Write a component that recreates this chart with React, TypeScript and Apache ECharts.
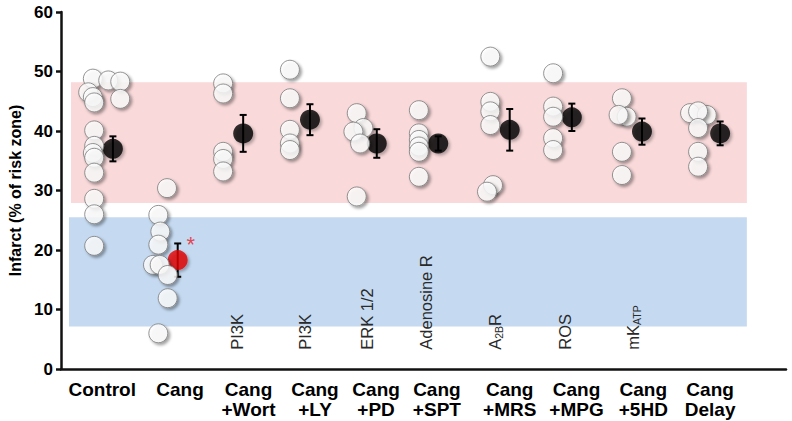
import React, { useEffect, useRef } from 'react';
import * as echarts from 'echarts';

// Groups along the x axis
const groupLabels = [
  'Control', 'Cang', 'Cang\n+Wort', 'Cang\n+LY', 'Cang\n+PD',
  'Cang\n+SPT', 'Cang\n+MRS', 'Cang\n+MPG', 'Cang\n+5HD', 'Cang\nDelay',
];
// Pathway targeted by each inhibitor (rich-text markup for subscripts)
const targetLabels = ['', '', 'PI3K', 'PI3K', 'ERK 1/2', 'Adenosine R', 'A{sub|2B}R', 'ROS', 'mK{sub|ATP}', ''];

// Individual infarct sizes (% of risk zone)
const controlValues = [48.8, 48.5, 48.3, 46.5, 45.7, 44.8, 45.4, 40.1, 37.5, 36.3, 35.5, 33.0, 28.6, 26.0, 20.7];
const cangValues = [30.4, 25.9, 23.1, 20.9, 17.5, 17.5, 15.8, 11.9, 6.0];
const wortValues = [48.0, 46.3, 36.5, 35.3, 33.2];
const lyValues = [50.3, 45.5, 40.2, 37.9, 36.8];
const pdValues = [43.0, 40.5, 39.9, 37.9, 29.0];
const sptValues = [43.5, 39.6, 38.5, 37.4, 36.5, 32.3];
const mrsValues = [52.5, 44.9, 43.3, 41.0, 30.9, 29.8];
const mpgValues = [49.7, 44.1, 42.4, 38.8, 36.8];
const hdValues = [45.5, 42.4, 42.7, 36.5, 32.6];
const delayValues = [43.0, 42.7, 43.3, 40.5, 36.5, 34.0];

// Group means and SEM
const meanValues = [37.0, 18.3, 39.6, 41.9, 37.9, 37.9, 40.2, 42.3, 39.9, 39.6];
const semValues = [2.1, 2.8, 3.1, 2.6, 2.4, 1.2, 3.5, 2.3, 2.2, 2.0];

// Reference ranges: untreated (pink) and protected (blue)
const untreatedRange = [27.9, 48.2];
const protectedRange = [7.15, 25.5];

// Y axis
const yMin = 0;
const yMax = 60;
const yStep = 10;

// ---- layout ----
const groupValues = [controlValues, cangValues, wortValues, lyValues, pdValues, sptValues, mrsValues, mpgValues, hdValues, delayValues];
const pointJitter = [
  [-0.24, -0.01, 0.17, -0.31, -0.24, -0.22, 0.17, -0.22, -0.22, -0.24, -0.22, -0.22, -0.22, -0.22, -0.22],
  [-0.13, -0.26, -0.23, -0.26, -0.34, -0.24, -0.12, -0.12, -0.26],
  [-0.29, -0.29, -0.29, -0.29, -0.29],
  [-0.29, -0.29, -0.29, -0.29, -0.29],
  [-0.29, -0.19, -0.34, -0.24, -0.29],
  [-0.36, -0.36, -0.36, -0.36, -0.36, -0.36],
  [-0.29, -0.29, -0.29, -0.29, -0.25, -0.34],
  [-0.35, -0.35, -0.35, -0.35, -0.35],
  [-0.32, -0.25, -0.37, -0.32, -0.32],
  [-0.3, -0.05, -0.18, -0.18, -0.18, -0.18],
];
const meanJitter = [0.06, 0.03, 0.01, 0.01, 0.01, -0.07, 0, -0.07, -0.02, 0.15];
const labelShift = [-0.1, 0.065, 0.09, 0.085, 0, -0.09, 0, 0, 0, 0];
const targetShift = [0, 0, -0.08, -0.06, -0.14, -0.25, -0.22, -0.17, -0.15, 0];
const targetBase = 3.24;
const xMin = -0.717;
const xMax = 10.136;
const bandLeft = -0.567;
const bandLeftBlue = -0.597;
const bandRight = 9.55;

const FONT = '"Liberation Sans", Arial, Helvetica, sans-serif';

export default function App() {
  const ref = useRef<HTMLDivElement>(null);

  useEffect(() => {
    if (!ref.current) return;
    const chart = echarts.init(ref.current, null, { renderer: 'svg' });

    const points: any[] = [];
    groupValues.forEach((vals, g) => {
      vals.forEach((v, k) => points.push([g + pointJitter[g][k], v]));
    });

    const means = meanValues.map((m, g) => {
      const item: any = { value: [g + meanJitter[g], m] };
      if (g === 1) {
        item.itemStyle = { color: '#e10000' };
        item.label = {
          show: true,
          formatter: '*',
          position: 'inside',
          offset: [13, -16],
          color: '#e8202a',
          fontSize: 22,
          fontFamily: FONT,
        };
      }
      return item;
    });

    const errors = meanValues.map((m, g) => [g + meanJitter[g], m - semValues[g], m + semValues[g]]);

    const labelPositions = groupLabels.map((_, i) => i + labelShift[i]);

    chart.setOption({
      animation: false,
      backgroundColor: '#ffffff',
      grid: { left: 61, top: 12, right: 6, bottom: 52, outerBoundsMode: 'none' },
      xAxis: {
        type: 'value',
        min: xMin,
        max: xMax,
        splitLine: { show: false },
        axisLine: { show: true, onZero: false, lineStyle: { color: '#111', width: 2.5 } },
        axisTick: { show: false },
        axisLabel: {
          show: true,
          customValues: labelPositions,
          formatter: (v: number) => groupLabels[Math.round(v)] ?? '',
          margin: 10,
          color: '#000',
          fontSize: 19,
          fontWeight: 'bold',
          fontFamily: FONT,
          lineHeight: 20,
          hideOverlap: false,
        },
      },
      yAxis: {
        type: 'value',
        min: yMin,
        max: yMax,
        interval: yStep,
        name: 'Infarct (% of risk zone)',
        nameLocation: 'middle',
        nameGap: 38,
        nameTextStyle: { color: '#000', fontSize: 16, fontWeight: 'bold', fontFamily: FONT },
        splitLine: { show: false },
        axisLine: { show: true, onZero: false, lineStyle: { color: '#111', width: 2.5 } },
        axisTick: { show: true, length: 5, lineStyle: { color: '#111', width: 2.5 } },
        axisLabel: { color: '#000', fontSize: 17, fontWeight: 'bold', fontFamily: FONT, margin: 8 },
      },
      series: [
        {
          type: 'scatter',
          data: [],
          z: 0,
          markArea: {
            silent: true,
            data: [
              [
                { xAxis: bandLeft, yAxis: untreatedRange[1], itemStyle: { color: '#f9d9da' } },
                { xAxis: bandRight, yAxis: untreatedRange[0] },
              ],
              [
                { xAxis: bandLeftBlue, yAxis: protectedRange[1], itemStyle: { color: '#c5daf1' } },
                { xAxis: bandRight, yAxis: protectedRange[0] },
              ],
            ],
            itemStyle: { opacity: 1 },
          },
        },
        {
          type: 'custom',
          z: 2,
          data: errors,
          renderItem: (_p: any, api: any) => {
            const x = api.value(0);
            const top = api.coord([x, api.value(2)]);
            const bot = api.coord([x, api.value(1)]);
            const w = 3.5;
            const st = { stroke: '#000', lineWidth: 2 };
            return {
              type: 'group',
              children: [
                { type: 'line', shape: { x1: top[0], y1: top[1], x2: bot[0], y2: bot[1] }, style: st },
                { type: 'line', shape: { x1: top[0] - w, y1: top[1], x2: top[0] + w, y2: top[1] }, style: st },
                { type: 'line', shape: { x1: bot[0] - w, y1: bot[1], x2: bot[0] + w, y2: bot[1] }, style: st },
              ],
            };
          },
        },
        {
          type: 'scatter',
          z: 3,
          symbolSize: 20,
          data: means,
          itemStyle: {
            color: '#000',
            shadowColor: 'rgba(0,0,0,0.35)',
            shadowBlur: 3,
            shadowOffsetX: 2,
            shadowOffsetY: 2,
          },
        },
        {
          type: 'scatter',
          z: 4,
          symbolSize: 19,
          data: points,
          itemStyle: {
            color: '#ffffff',
            borderColor: '#7a7a7a',
            borderWidth: 1,
            shadowColor: 'rgba(0,0,0,0.45)',
            shadowBlur: 3,
            shadowOffsetX: 2,
            shadowOffsetY: 2,
          },
        },
      ],
    });

    // Rotated target names under each inhibitor group
    const graphics = targetLabels
      .map((t, g) => {
        if (!t) return null;
        const p = chart.convertToPixel({ gridIndex: 0 }, [g + targetShift[g], targetBase]) as number[];
        return {
          type: 'text',
          x: p[0],
          y: p[1],
          rotation: Math.PI / 2,
          z: 10,
          style: {
            text: t,
            fill: '#2a2a2a',
            fontSize: 16.5,
            fontFamily: FONT,
            align: 'left',
            verticalAlign: 'middle',
            lineHeight: 18,
            rich: {
              sub: { fontSize: 10.5, lineHeight: 10, verticalAlign: 'bottom', fill: '#2a2a2a', fontFamily: FONT },
            },
          },
        };
      })
      .filter(Boolean);
    chart.setOption({ graphic: graphics });

    return () => chart.dispose();
  }, []);

  return (
    <div
      ref={ref}
      style={{ position: 'fixed', left: 0, top: 0, width: 792, height: 421, background: '#fff' }}
    />
  );
}
